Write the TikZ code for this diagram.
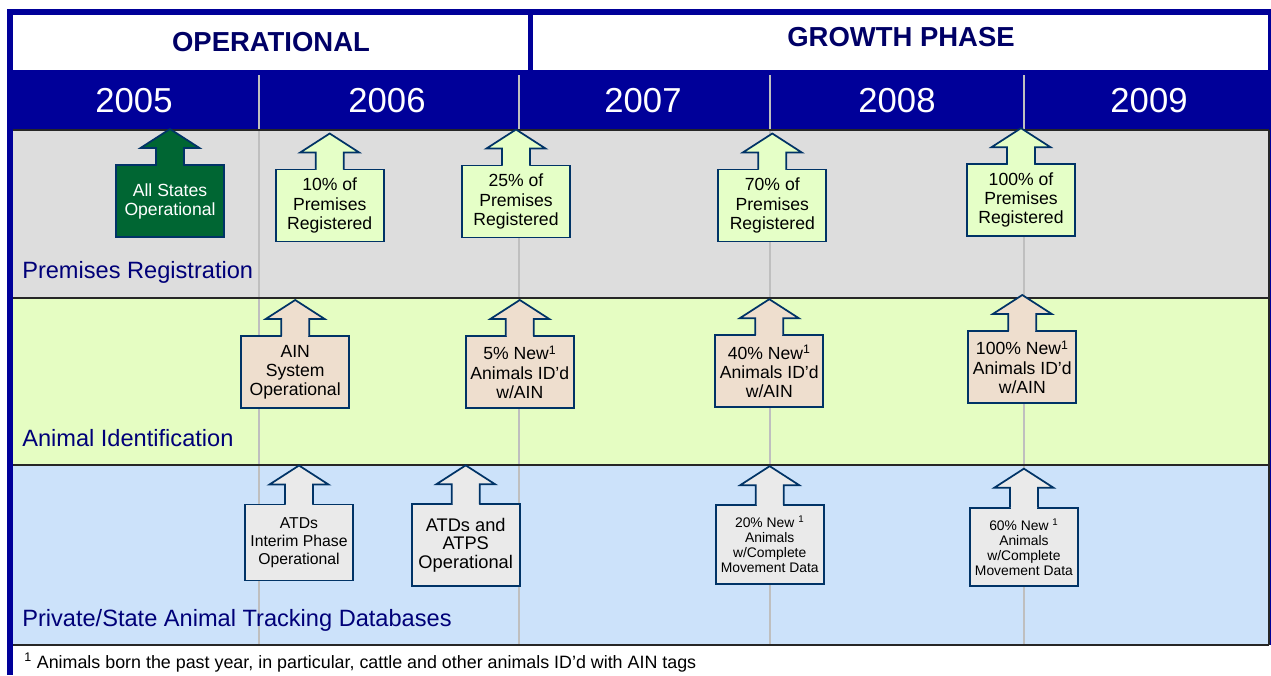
\documentclass[tikz,border=0pt]{standalone}
\usepackage{fontspec}
\setmainfont{Liberation Sans}
\usetikzlibrary{calc}
\definecolor{navy}{RGB}{0,0,153}
\definecolor{hdtext}{RGB}{0,0,102}
\definecolor{rowtext}{RGB}{0,0,120}
\definecolor{premrow}{RGB}{221,221,221}
\definecolor{anirow}{RGB}{229,253,194}
\definecolor{trackrow}{RGB}{204,226,250}
\definecolor{premfill}{RGB}{229,255,199}
\definecolor{anifill}{RGB}{238,222,206}
\definecolor{trackfill}{RGB}{234,234,234}
\definecolor{stategreen}{RGB}{0,102,51}
\definecolor{msedge}{RGB}{0,51,102}

\begin{document}
\begin{tikzpicture}[x=0.75pt, y=-0.75pt,
    every node/.style={inner sep=0pt},
    hdr/.style={font=\fontsize{20.6}{24}\selectfont\bfseries, text=hdtext},
    yr/.style={font=\fontsize{26}{30}\selectfont, text=white},
    rowlbl/.style={anchor=base west, font=\fontsize{17.7}{21}\selectfont, text=rowtext},
    ms/.style={draw=msedge, line width=1.3pt, outer sep=0pt, minimum width=81pt,
               minimum height=54pt, align=center, font=\fontsize{13.2}{14.3}\selectfont},
    msline/.style={draw=msedge, line width=1.3pt},
    rowline/.style={draw=black!85, line width=1.2pt},
    yline/.style={draw=black!25, line width=0.8pt},
]
\useasboundingbox (0,0) rectangle (1271,675);
% frame and phase header
\fill[white] (0,0) rectangle (1271,675);
\fill[navy] (7,9) rectangle (1271,675);
\fill[white] (13,15) rectangle (528,70);
\fill[white] (533,15) rectangle (1268,70);
\node[hdr] (oper) at (271,42) {OPERATIONAL};
\node[hdr] (growth) at (901,37) {GROWTH PHASE};
% years
\foreach \yr/\x in {2005/134, 2006/387, 2007/643, 2008/897, 2009/1149}
    \node[yr] (y\yr) at (\x,101) {\yr};
% rows
\fill[premrow] (13,130) rectangle (1269,298);
\fill[anirow] (13,298) rectangle (1269,465);
\fill[trackrow] (13,465) rectangle (1269,645);
\fill[white] (13,645) rectangle (1271,675);
\foreach \x in {259,519,770,1024}
    \draw[yline] (\x,75) -- (\x,645);
\foreach \y in {130,298,465,645}
    \draw[rowline] (13,\y) -- (1269,\y);
\draw[rowline] (1269,130) -- (1269,645);
\node[rowlbl] (lprem) at (22,278) {Premises Registration};
\node[rowlbl] (lani) at (22,446) {Animal Identification};
\node[rowlbl] (ltrack) at (22,626) {Private/State Animal Tracking Databases};
% Row 1: premises
\node[ms, fill=stategreen, text=white] (allstates) at (170,201) {All States\\Operational};
\node[ms, fill=premfill] (prem10) at (329.7,205.5) {10\% of\\Premises\\Registered};
\node[ms, fill=premfill] (prem25) at (516,201.5) {25\% of\\Premises\\Registered};
\node[ms, fill=premfill] (prem70) at (772.3,205.5) {70\% of\\Premises\\Registered};
\node[ms, fill=premfill] (prem100) at (1021,200.2) {100\% of\\Premises\\Registered};
% Row 2: animal ID
\node[ms, fill=anifill] (ainsys) at (295.2,372) {AIN\\System\\Operational};
\node[ms, fill=anifill] (new5) at (519.8,372) {5\% New\textsuperscript{1}\\Animals ID’d\\w/AIN};
\node[ms, fill=anifill] (new40) at (769.3,371.2) {40\% New\textsuperscript{1}\\Animals ID’d\\w/AIN};
\node[ms, fill=anifill] (new100) at (1022.3,367) {100\% New\textsuperscript{1}\\Animals ID’d\\w/AIN};
% Row 3: tracking databases
\node[ms, fill=trackfill, minimum height=57pt, font=\fontsize{11.8}{13.5}\selectfont] (atdint) at (299,542.5) {ATDs\\Interim Phase\\Operational};
\node[ms, fill=trackfill, minimum height=61pt, font=\fontsize{13.7}{13.9}\selectfont] (atdatps) at (465.7,545) {ATDs and\\ATPS\\Operational};
\node[ms, fill=trackfill, minimum height=59pt, font=\fontsize{10.4}{11.3}\selectfont] (move20) at (769.7,544.5) {20\% New \textsuperscript{1}\\Animals\\w/Complete\\Movement Data};
\node[ms, fill=trackfill, minimum height=59pt, font=\fontsize{10.4}{11.3}\selectfont] (move60) at (1023.9,547) {60\% New \textsuperscript{1}\\Animals\\w/Complete\\Movement Data};
% up arrows on top of each box
\foreach \n/\c/\s in {allstates/stategreen/17, prem10/premfill/17, prem25/premfill/17,
        prem70/premfill/17, prem100/premfill/17, ainsys/anifill/17, new5/anifill/17,
        new40/anifill/17, new100/anifill/17, atdint/trackfill/20, atdatps/trackfill/20,
        move20/trackfill/20, move60/trackfill/20} {
    \fill[\c] ($(\n.north)+(-13,1.5)$) rectangle ($(\n.north)+(13,-\s)$);
    \draw[msline, fill=\c] ($(\n.north)+(-14,0)$) -- ++(0,-\s) -- ++(-15.5,0)
        -- ++(29.5,-19) -- ++(29.5,19) -- ++(-15.5,0) -- ++(0,\s);
}
% footnote
\node[anchor=base west, font=\fontsize{13.4}{15}\selectfont] (fnote) at (24,668)
    {\textsuperscript{1} Animals born the past year, in particular, cattle and other animals ID’d with AIN tags};
\end{tikzpicture}
\end{document}
